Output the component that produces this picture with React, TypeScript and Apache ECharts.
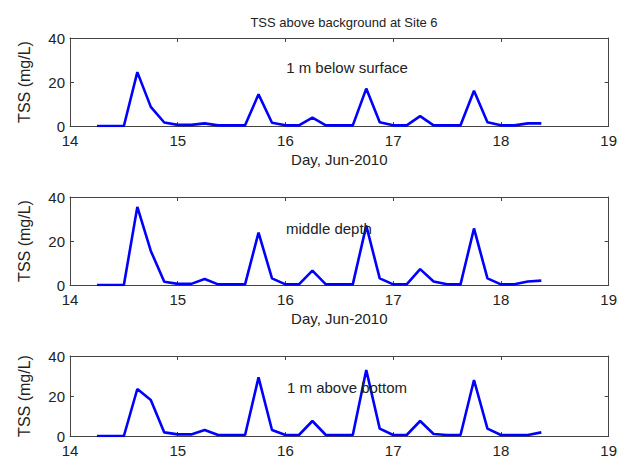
import React, { useEffect, useRef } from "react";
import * as echarts from "echarts";

const days = [
  14.25, 14.375, 14.5, 14.625, 14.75, 14.875, 15.0, 15.125, 15.25, 15.375, 15.5, 15.625,
  15.75, 15.875, 16.0, 16.125, 16.25, 16.375, 16.5, 16.625, 16.75, 16.875, 17.0, 17.125,
  17.25, 17.375, 17.5, 17.625, 17.75, 17.875, 18.0, 18.125, 18.25, 18.375,
];

const surface = [
  0, 0, 0, 24.5, 8.7, 1.6, 0.5, 0.5, 1.2, 0.3, 0.3, 0.3,
  14.4, 1.5, 0.3, 0.3, 3.8, 0.3, 0.3, 0.3, 17, 1.7, 0.3, 0.3,
  4.5, 0.3, 0.3, 0.3, 16, 1.7, 0.3, 0.3, 1.2, 1.2,
];

const middle = [
  0, 0, 0, 35.5, 15.5, 1.5, 0.5, 0.5, 2.7, 0.3, 0.3, 0.3,
  23.8, 3, 0.3, 0.3, 6.5, 0.3, 0.3, 0.3, 27, 3, 0.3, 0.3,
  7.2, 1.6, 0.3, 0.3, 25.7, 3, 0.3, 0.3, 1.6, 2,
];

const bottom = [
  0, 0, 0, 23.5, 18, 1.8, 0.8, 0.8, 3, 0.5, 0.5, 0.5,
  29.3, 3, 0.5, 0.5, 7.5, 0.5, 0.5, 0.5, 33, 3.7, 0.5, 0.5,
  7.5, 1, 0.5, 0.5, 28, 3.7, 0.5, 0.5, 0.5, 1.8,
];

const panelLabels = ["1 m below surface", "middle depth", "1 m above bottom"];
const xTitle = "Day, Jun-2010";
const yTitle = "TSS (mg/L)";
const chartTitle = "TSS above background at Site 6";

export default function App() {
  const ref = useRef<HTMLDivElement>(null);
  useEffect(() => {
    if (!ref.current) return;
    const chart = echarts.init(ref.current, undefined, { renderer: "svg" });
    const font = "Liberation Sans, Arial, sans-serif";
    const axisColor = "#444";
    const textColor = "#222";
    const tops = [30, 189, 348];
    const seriesData = [surface, middle, bottom];
    const grids = tops.map((t) => ({ left: 55, right: 9, top: t, height: 88, containLabel: false }));
    const xAxes: any[] = [];
    const yAxes: any[] = [];
    const series: any[] = [];
    tops.forEach((_, i) => {
      const common = {
        type: "value",
        gridIndex: i,
        min: 14,
        max: 19,
        interval: 1,
        splitLine: { show: false },
        axisLine: { show: true, onZero: false, lineStyle: { color: axisColor, width: 1 } },
        axisTick: { show: true, inside: true, length: 4, lineStyle: { color: axisColor } },
      };
      xAxes.push({
        ...common,
        position: "bottom",
        axisLabel: { show: true, color: textColor, fontSize: 15, fontFamily: font, margin: 7 },
        name: i < 2 ? xTitle : "",
        nameLocation: "middle",
        nameGap: 26,
        nameTextStyle: { color: textColor, fontSize: 15, fontFamily: font },
      });
      xAxes.push({ ...common, position: "top", axisLabel: { show: false } });
      const ycommon = {
        type: "value",
        gridIndex: i,
        min: 0,
        max: 40,
        interval: 20,
        splitLine: { show: false },
        axisLine: { show: true, onZero: false, lineStyle: { color: axisColor, width: 1 } },
        axisTick: { show: true, inside: true, length: 4, lineStyle: { color: axisColor } },
      };
      yAxes.push({
        ...ycommon,
        position: "left",
        axisLabel: { show: true, color: textColor, fontSize: 15, fontFamily: font, margin: 5 },
        name: yTitle,
        nameLocation: "middle",
        nameGap: 38,
        nameRotate: 90,
        nameTextStyle: { color: textColor, fontSize: 16, fontFamily: font },
      });
      yAxes.push({ ...ycommon, position: "right", axisLabel: { show: false } });
      series.push({
        type: "line",
        xAxisIndex: i * 2,
        yAxisIndex: i * 2,
        data: days.map((d, k) => [d, seriesData[i][k]]),
        showSymbol: false,
        lineStyle: { color: "#0000ff", width: 2.6 },
        itemStyle: { color: "#0000ff" },
      });
    });
    const labelPos = [
      [339, 59],
      [321, 220],
      [339, 379],
    ];
    chart.setOption({
      animation: false,
      backgroundColor: "#ffffff",
      title: {
        text: chartTitle,
        left: 331,
        top: 3,
        textAlign: "center",
        textStyle: { fontSize: 13, fontWeight: "normal", color: textColor, fontFamily: font },
      },
      grid: grids,
      xAxis: xAxes,
      yAxis: yAxes,
      series,
      graphic: panelLabels.map((t, i) => ({
        type: "text",
        x: labelPos[i][0],
        y: labelPos[i][1],
        style: {
          text: t,
          fontSize: 15,
          fontFamily: font,
          fill: textColor,
          textAlign: "center",
          textVerticalAlign: "middle",
        },
        z: 10,
      })),
    });
    return () => chart.dispose();
  }, []);
  return <div ref={ref} style={{ width: 612, height: 450 }} />;
}
